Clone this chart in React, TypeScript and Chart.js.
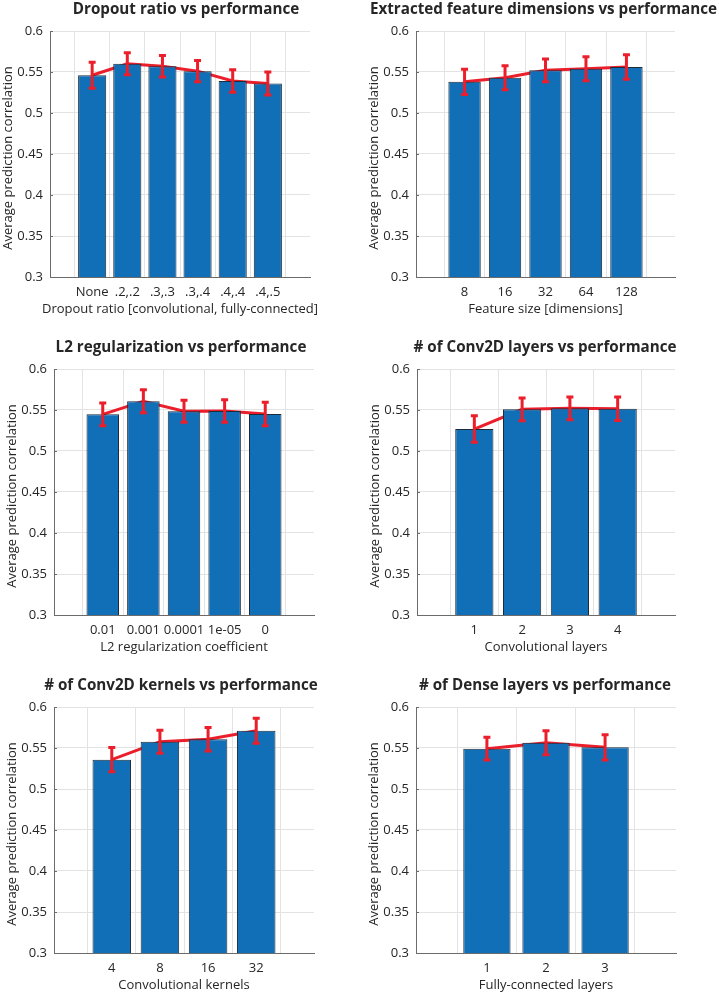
import React, { useEffect, useRef } from "react";
import { Chart, registerables } from "chart.js";

Chart.register(...registerables);

// ---------- data ----------
const Y_TICKS = [0.3, 0.35, 0.4, 0.45, 0.5, 0.55, 0.6];
const Y_LABEL = "Average prediction correlation";

const dropoutCats = ["None", ".2,.2", ".3,.3", ".3,.4", ".4,.4", ".4,.5"];
const dropoutMeans = [0.546, 0.56, 0.557, 0.551, 0.539, 0.536];
const dropoutErrs = [0.0159, 0.0134, 0.0132, 0.013, 0.0138, 0.014];

const featureCats = ["8", "16", "32", "64", "128"];
const featureMeans = [0.538, 0.543, 0.552, 0.554, 0.556];
const featureErrs = [0.0153, 0.0145, 0.014, 0.0147, 0.0149];

const l2Cats = ["0.01", "0.001", "0.0001", "1e-05", "0"];
const l2Means = [0.5447, 0.5606, 0.5484, 0.5488, 0.5451];
const l2Errs = [0.0138, 0.014, 0.0134, 0.0138, 0.0142];

const convLayerCats = ["1", "2", "3", "4"];
const convLayerMeans = [0.5268, 0.5508, 0.552, 0.5516];
const convLayerErrs = [0.0161, 0.0138, 0.014, 0.0144];

const kernelCats = ["4", "8", "16", "32"];
const kernelMeans = [0.5358, 0.5577, 0.5606, 0.5711];
const kernelErrs = [0.0148, 0.014, 0.0144, 0.0152];

const denseCats = ["1", "2", "3"];
const denseMeans = [0.5492, 0.5565, 0.5508];
const denseErrs = [0.0138, 0.0146, 0.0154];

// ---------- style ----------
const FONT = "'Open Sans', 'Noto Sans', sans-serif";
const BAR = "#106fb7";
const BAR_EDGE = "#1e2a36";
const RED = "#eb1f2b";
const GRID = "#e3e3e3";
const AXIS = "#6b6b6b";
const TEXT = "#262626";

type Panel = {
  title: string;
  xTitle: string;
  cats: string[];
  means: number[];
  errs: number[];
  box: { left: number; top: number; width: number; height: number };
  plot: { l: number; t: number; r: number; b: number };
  titleDx: number;
};

const panels: Panel[] = [
  {
    title: "Dropout ratio vs performance",
    xTitle: "Dropout ratio [convolutional, fully-connected]",
    cats: dropoutCats, means: dropoutMeans, errs: dropoutErrs,
    box: { left: 0, top: 0, width: 360, height: 330 },
    plot: { l: 50, t: 31, r: 310, b: 277 },
    titleDx: 6,
  },
  {
    title: "Extracted feature dimensions vs performance",
    xTitle: "Feature size [dimensions]",
    cats: featureCats, means: featureMeans, errs: featureErrs,
    box: { left: 360, top: 0, width: 359, height: 330 },
    plot: { l: 56, t: 31, r: 315, b: 277 },
    titleDx: -2,
  },
  {
    title: "L2 regularization vs performance",
    xTitle: "L2 regularization coefficient",
    cats: l2Cats, means: l2Means, errs: l2Errs,
    box: { left: 0, top: 330, width: 360, height: 330 },
    plot: { l: 54, t: 39, r: 314, b: 285 },
    titleDx: -3,
  },
  {
    title: "# of Conv2D layers vs performance",
    xTitle: "Convolutional layers",
    cats: convLayerCats, means: convLayerMeans, errs: convLayerErrs,
    box: { left: 360, top: 330, width: 359, height: 330 },
    plot: { l: 57, t: 39, r: 315, b: 285 },
    titleDx: -1,
  },
  {
    title: "# of Conv2D kernels vs performance",
    xTitle: "Convolutional kernels",
    cats: kernelCats, means: kernelMeans, errs: kernelErrs,
    box: { left: 0, top: 660, width: 360, height: 333 },
    plot: { l: 54, t: 47, r: 314, b: 293 },
    titleDx: -3,
  },
  {
    title: "# of Dense layers vs performance",
    xTitle: "Fully-connected layers",
    cats: denseCats, means: denseMeans, errs: denseErrs,
    box: { left: 360, top: 660, width: 359, height: 333 },
    plot: { l: 56, t: 47, r: 316, b: 293 },
    titleDx: -1,
  },
];

function fmt(v: number) {
  return String(Number(v.toFixed(2)));
}

function BarPanel({ p }: { p: Panel }) {
  const ref = useRef<HTMLCanvasElement | null>(null);

  useEffect(() => {
    if (!ref.current) return;
    const n = p.cats.length;
    const overlay = {
      id: "overlay",
      afterDatasetsDraw(chart: any) {
        const ctx = chart.ctx;
        const xs = chart.scales.x;
        const ys = chart.scales.y;
        const a = chart.chartArea;
        ctx.save();
        // inward y tick marks
        ctx.strokeStyle = AXIS;
        ctx.lineWidth = 1;
        Y_TICKS.forEach((v) => {
          const py = Math.round(ys.getPixelForValue(v)) + 0.5;
          ctx.beginPath();
          ctx.moveTo(a.left, py);
          ctx.lineTo(a.left + 3, py);
          ctx.stroke();
        });
        // error bars
        ctx.strokeStyle = RED;
        ctx.lineWidth = 3;
        ctx.lineCap = "butt";
        p.means.forEach((m, i) => {
          const px = xs.getPixelForValue(i + 1);
          const top = ys.getPixelForValue(m + p.errs[i]);
          const bot = ys.getPixelForValue(m - p.errs[i]);
          ctx.beginPath();
          ctx.moveTo(px, top);
          ctx.lineTo(px, bot);
          ctx.moveTo(px - 3.5, top);
          ctx.lineTo(px + 3.5, top);
          ctx.moveTo(px - 3.5, bot);
          ctx.lineTo(px + 3.5, bot);
          ctx.stroke();
        });
        // texts
        ctx.fillStyle = TEXT;
        ctx.textAlign = "center";
        ctx.textBaseline = "middle";
        ctx.font = `bold 15.2px ${FONT}`;
        ctx.fillText(p.title, (a.left + a.right) / 2 + p.titleDx, a.top - 21);
        ctx.font = `13px ${FONT}`;
        ctx.fillText(p.xTitle, (a.left + a.right) / 2, a.bottom + 32.5);
        ctx.translate(a.left - 41.5, (a.top + a.bottom) / 2 + 4);
        ctx.rotate(-Math.PI / 2);
        ctx.fillText(Y_LABEL, 0, 0);
        ctx.restore();
      },
    };

    const chart = new Chart(ref.current, {
      type: "bar",
      data: {
        datasets: [
          {
            type: "bar",
            data: p.means.map((m, i) => ({ x: i + 1, y: m })),
            backgroundColor: BAR,
            borderColor: BAR_EDGE,
            borderWidth: 1,
            categoryPercentage: 1,
            barPercentage: 0.8,
            order: 0,
          } as any,
          {
            type: "line",
            data: p.means.map((m, i) => ({ x: i + 1, y: m })),
            borderColor: RED,
            borderWidth: 3,
            pointRadius: 0,
            fill: false,
            tension: 0,
            order: 1,
          } as any,
        ],
      },
      options: {
        responsive: false,
        animation: false,
        devicePixelRatio: 1,
        layout: {
          padding: {
            left: 0,
            top: p.plot.t,
            right: p.box.width - p.plot.r,
            bottom: 0,
          },
        },
        plugins: {
          legend: { display: false },
          tooltip: { enabled: false },
          title: { display: false },
        },
        scales: {
          x: {
            type: "linear",
            min: -0.2,
            max: n + 1.2,
            offset: false,
            afterBuildTicks: (s: any) => {
              s.ticks = p.cats.map((_, i) => ({ value: i + 1 }));
            },
            afterFit: (s: any) => {
              s.height = p.box.height - p.plot.b;
            },
            ticks: {
              autoSkip: false,
              maxRotation: 0,
              padding: 7,
              color: TEXT,
              font: { family: FONT, size: 13 },
              callback: (v: any) => p.cats[Math.round(Number(v)) - 1] ?? "",
            },
            grid: { color: GRID, lineWidth: 1, drawTicks: false },
            border: { display: true, color: AXIS, width: 1 },
          },
          y: {
            type: "linear",
            min: 0.3,
            max: 0.6,
            afterBuildTicks: (s: any) => {
              s.ticks = Y_TICKS.map((v) => ({ value: v }));
            },
            afterFit: (s: any) => {
              s.width = p.plot.l;
            },
            ticks: {
              padding: 7,
              color: TEXT,
              font: { family: FONT, size: 13 },
              callback: (v: any) => fmt(Number(v)),
            },
            grid: { color: GRID, lineWidth: 1, drawTicks: false },
            border: { display: true, color: AXIS, width: 1 },
          },
        },
      } as any,
      plugins: [overlay],
    });
    return () => chart.destroy();
  }, [p]);

  return (
    <canvas
      ref={ref}
      width={p.box.width}
      height={p.box.height}
      style={{
        position: "absolute",
        left: p.box.left,
        top: p.box.top,
        width: p.box.width,
        height: p.box.height,
      }}
    />
  );
}

export default function App() {
  return (
    <div
      style={{
        position: "absolute",
        left: 0,
        top: 0,
        width: 719,
        height: 993,
        background: "#ffffff",
      }}
    >
      {panels.map((p, i) => (
        <BarPanel key={i} p={p} />
      ))}
    </div>
  );
}
